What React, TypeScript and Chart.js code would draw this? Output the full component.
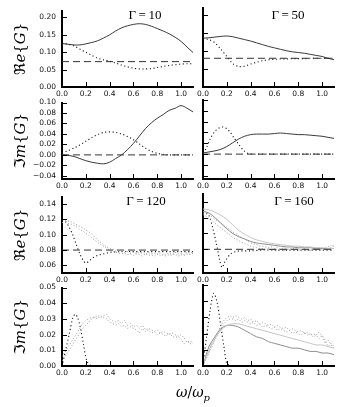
import React, { useEffect, useRef } from 'react';
import { Chart, registerables } from 'chart.js';
Chart.register(...registerables);

// ---------- data ----------
const W = [0, 0.05, 0.1, 0.15, 0.2, 0.25, 0.3, 0.35, 0.4, 0.45, 0.5, 0.55, 0.6, 0.65, 0.7, 0.75, 0.8, 0.85, 0.9, 0.95, 1.0, 1.05, 1.1];
const W2 = [0, 0.025, 0.05, 0.075, 0.1, 0.125, 0.15, 0.175, 0.2, 0.225, 0.25, 0.275, 0.3, 0.325, 0.35, 0.375, 0.4, 0.425, 0.45, 0.475, 0.5, 0.525, 0.55, 0.575, 0.6, 0.625, 0.65, 0.675, 0.7, 0.725, 0.75, 0.775, 0.8, 0.825, 0.85, 0.875, 0.9, 0.925, 0.95, 0.975, 1.0, 1.025, 1.05, 1.075, 1.1];
const DASH_X = [0, 1.1];
const X_TICKS = [0, 0.2, 0.4, 0.6, 0.8, 1.0];

// Gamma = 10
const RE10_SOLID = [0.125, 0.123, 0.121, 0.121, 0.124, 0.128, 0.133, 0.141, 0.150, 0.161, 0.170, 0.176, 0.180, 0.182, 0.180, 0.175, 0.168, 0.161, 0.153, 0.143, 0.131, 0.115, 0.099];
const RE10_DOT = [0.125, 0.123, 0.118, 0.109, 0.100, 0.091, 0.083, 0.078, 0.074, 0.069, 0.063, 0.058, 0.054, 0.052, 0.052, 0.053, 0.056, 0.059, 0.062, 0.064, 0.066, 0.067, 0.067];
const RE10_DASH = [0.073, 0.073];
const IM10_SOLID = [0, -0.001, -0.003, -0.007, -0.011, -0.014, -0.016, -0.017, -0.014, -0.007, 0, 0.010, 0.022, 0.036, 0.050, 0.061, 0.070, 0.077, 0.085, 0.089, 0.094, 0.089, 0.082];
const IM10_DOT = [0.004, 0.008, 0.013, 0.019, 0.026, 0.033, 0.039, 0.043, 0.044, 0.043, 0.040, 0.035, 0.029, 0.021, 0.013, 0.007, 0.003, 0.001, 0, 0, 0, 0, 0];
const IM10_DASH = [0, 0];

// Gamma = 50
const RE50_SOLID = [0.136, 0.137, 0.139, 0.141, 0.142, 0.140, 0.136, 0.132, 0.128, 0.123, 0.118, 0.113, 0.109, 0.105, 0.101, 0.098, 0.096, 0.094, 0.091, 0.088, 0.085, 0.080, 0.076];
const RE50_DOT = [0.136, 0.132, 0.123, 0.105, 0.085, 0.065, 0.057, 0.058, 0.064, 0.069, 0.073, 0.076, 0.077, 0.078, 0.078, 0.079, 0.079, 0.079, 0.080, 0.080, 0.080, 0.080, 0.080];
const RE50_DASH = [0.08, 0.08];
const IM50_SOLID = [0.002, 0.004, 0.006, 0.009, 0.014, 0.021, 0.028, 0.033, 0.036, 0.037, 0.037, 0.037, 0.038, 0.039, 0.038, 0.037, 0.036, 0.036, 0.035, 0.034, 0.033, 0.031, 0.029];
const IM50_DOT_X = [0, 0.03, 0.06, 0.1, 0.14, 0.17, 0.2, 0.23, 0.26, 0.3, 0.34, 0.38, 0.42, 0.5, 0.6, 0.7, 0.8, 0.9, 1.0, 1.1];
const IM50_DOT = [0.002, 0.012, 0.028, 0.042, 0.049, 0.050, 0.047, 0.040, 0.030, 0.018, 0.007, 0.001, 0, 0, 0, 0, 0, 0, 0, 0];
const IM50_DASH = [0, 0];

// Gamma = 120
const RE120_BLK_X = [0, 0.03, 0.06, 0.09, 0.12, 0.15, 0.18, 0.2, 0.23, 0.26, 0.3, 0.35, 0.4, 0.5, 0.6, 0.7, 0.8, 0.9, 1.0, 1.1];
const RE120_BLK = [0.119, 0.117, 0.110, 0.100, 0.087, 0.075, 0.066, 0.063, 0.066, 0.070, 0.073, 0.075, 0.077, 0.078, 0.078, 0.078, 0.078, 0.078, 0.078, 0.078];
const RE120_G1 = [0.120, 0.119, 0.118, 0.117, 0.115, 0.113, 0.111, 0.109, 0.106, 0.104, 0.101, 0.097, 0.093, 0.090, 0.087, 0.084, 0.082, 0.081, 0.079, 0.078, 0.078, 0.077, 0.078, 0.076, 0.077, 0.075, 0.077, 0.076, 0.074, 0.077, 0.075, 0.076, 0.074, 0.076, 0.073, 0.075, 0.076, 0.074, 0.077, 0.075, 0.076, 0.074, 0.077, 0.076, 0.078];
const RE120_G2 = [0.116, 0.116, 0.115, 0.114, 0.112, 0.110, 0.107, 0.105, 0.102, 0.099, 0.096, 0.093, 0.090, 0.087, 0.085, 0.082, 0.080, 0.078, 0.077, 0.076, 0.075, 0.076, 0.074, 0.075, 0.073, 0.075, 0.074, 0.072, 0.075, 0.073, 0.074, 0.072, 0.075, 0.073, 0.074, 0.072, 0.074, 0.073, 0.075, 0.072, 0.074, 0.073, 0.075, 0.074, 0.076];
const RE120_DASH = [0.08, 0.08];
const IM120_BLK_X = [0, 0.03, 0.06, 0.09, 0.11, 0.13, 0.15, 0.18, 0.21, 0.25, 0.3];
const IM120_BLK = [0, 0.010, 0.020, 0.0305, 0.033, 0.031, 0.026, 0.014, 0.003, 0, 0];
const IM120_G1 = [0.006, 0.009, 0.012, 0.015, 0.018, 0.021, 0.024, 0.027, 0.029, 0.030, 0.031, 0.031, 0.032, 0.031, 0.032, 0.033, 0.030, 0.029, 0.028, 0.029, 0.027, 0.029, 0.026, 0.027, 0.025, 0.026, 0.024, 0.026, 0.023, 0.024, 0.023, 0.022, 0.023, 0.021, 0.022, 0.021, 0.020, 0.021, 0.020, 0.019, 0.020, 0.018, 0.015, 0.016, 0.015];
const IM120_G2 = [0.003, 0.006, 0.009, 0.012, 0.015, 0.018, 0.021, 0.024, 0.026, 0.028, 0.030, 0.031, 0.030, 0.032, 0.031, 0.030, 0.028, 0.027, 0.026, 0.027, 0.025, 0.026, 0.024, 0.025, 0.024, 0.023, 0.021, 0.024, 0.022, 0.023, 0.021, 0.022, 0.020, 0.021, 0.020, 0.019, 0.021, 0.019, 0.018, 0.019, 0.017, 0.014, 0.016, 0.014, 0.015];

// Gamma = 160
const RE160_LIGHT = [0.131, 0.130, 0.127, 0.123, 0.118, 0.111, 0.104, 0.099, 0.095, 0.092, 0.090, 0.088, 0.087, 0.086, 0.085, 0.084, 0.084, 0.083, 0.083, 0.082, 0.082, 0.081, 0.081];
const RE160_MID = [0.128, 0.126, 0.120, 0.113, 0.106, 0.100, 0.096, 0.093, 0.090, 0.088, 0.087, 0.086, 0.085, 0.084, 0.083, 0.083, 0.082, 0.082, 0.082, 0.081, 0.081, 0.081, 0.081];
const RE160_BLK_X = [0, 0.03, 0.05, 0.08, 0.11, 0.14, 0.16, 0.18, 0.2, 0.23, 0.27, 0.31, 0.4, 0.5, 0.6, 0.7, 0.8, 0.9, 1.0, 1.1];
const RE160_BLK = [0.128, 0.126, 0.123, 0.108, 0.089, 0.066, 0.057, 0.063, 0.068, 0.074, 0.077, 0.078, 0.078, 0.079, 0.079, 0.079, 0.079, 0.079, 0.079, 0.079];
const RE160_G1 = [0.126, 0.125, 0.123, 0.121, 0.118, 0.116, 0.113, 0.111, 0.108, 0.105, 0.102, 0.100, 0.097, 0.095, 0.093, 0.090, 0.088, 0.087, 0.086, 0.084, 0.084, 0.083, 0.082, 0.083, 0.081, 0.082, 0.080, 0.082, 0.081, 0.080, 0.082, 0.080, 0.081, 0.079, 0.081, 0.080, 0.079, 0.081, 0.080, 0.082, 0.080, 0.083, 0.081, 0.085, 0.083];
const RE160_G2 = [0.124, 0.122, 0.119, 0.116, 0.113, 0.110, 0.107, 0.104, 0.101, 0.098, 0.095, 0.093, 0.091, 0.089, 0.087, 0.086, 0.084, 0.083, 0.082, 0.081, 0.081, 0.080, 0.081, 0.079, 0.080, 0.079, 0.080, 0.078, 0.080, 0.079, 0.078, 0.080, 0.079, 0.078, 0.080, 0.079, 0.078, 0.080, 0.079, 0.081, 0.079, 0.080, 0.084, 0.082, 0.086];
const RE160_DASH = [0.08, 0.08];
const IM160_BLK_X = [0, 0.03, 0.06, 0.09, 0.12, 0.15, 0.18, 0.2, 0.23];
const IM160_BLK = [0.0016, 0.018, 0.0346, 0.0449, 0.0387, 0.0243, 0.0099, 0.0016, 0];
const IM160_MID = [0, 0.012, 0.018, 0.023, 0.025, 0.025, 0.024, 0.022, 0.020, 0.018, 0.017, 0.015, 0.014, 0.013, 0.012, 0.011, 0.011, 0.010, 0.009, 0.009, 0.008, 0.008, 0.007];
const IM160_LIGHT = [0, 0.010, 0.017, 0.022, 0.025, 0.026, 0.026, 0.025, 0.024, 0.023, 0.022, 0.021, 0.020, 0.019, 0.018, 0.017, 0.016, 0.015, 0.014, 0.013, 0.013, 0.012, 0.011];
const IM160_G1 = [0.001, 0.005, 0.009, 0.013, 0.017, 0.021, 0.025, 0.028, 0.030, 0.031, 0.030, 0.031, 0.030, 0.029, 0.030, 0.028, 0.029, 0.027, 0.028, 0.026, 0.027, 0.026, 0.025, 0.026, 0.024, 0.025, 0.024, 0.023, 0.024, 0.022, 0.023, 0.022, 0.021, 0.022, 0.020, 0.021, 0.019, 0.020, 0.019, 0.021, 0.018, 0.014, 0.016, 0.013, 0.011];
const IM160_G2 = [0.000, 0.004, 0.008, 0.012, 0.016, 0.019, 0.023, 0.026, 0.028, 0.029, 0.029, 0.028, 0.029, 0.027, 0.028, 0.027, 0.026, 0.027, 0.025, 0.026, 0.024, 0.025, 0.024, 0.023, 0.024, 0.022, 0.023, 0.022, 0.021, 0.022, 0.020, 0.021, 0.020, 0.019, 0.021, 0.019, 0.020, 0.018, 0.019, 0.017, 0.019, 0.016, 0.012, 0.014, 0.012];

const Y_TICKS_RE_TOP = [0, 0.05, 0.1, 0.15, 0.2];
const Y_TICKS_IM_TOP = [-0.04, -0.02, 0, 0.02, 0.04, 0.06, 0.08, 0.1];
const Y_TICKS_RE_BOT = [0.06, 0.08, 0.1, 0.12, 0.14];
const Y_TICKS_IM_BOT = [0, 0.01, 0.02, 0.03, 0.04, 0.05];

// ---------- styles ----------
type Kind = 'solid' | 'dot' | 'dash' | 'gray' | 'light' | 'mid';
const STYLE: Record<Kind, any> = {
  solid: { borderColor: '#3a3a3a', borderWidth: 1, borderDash: [], tension: 0.35 },
  dot: { borderColor: '#111111', borderWidth: 1.1, borderDash: [1.1, 2.6], tension: 0.3 },
  dash: { borderColor: '#333333', borderWidth: 1, borderDash: [7, 4], tension: 0 },
  gray: { borderColor: '#9a9a9a', borderWidth: 1, borderDash: [1, 2], tension: 0 },
  light: { borderColor: '#c4c4c4', borderWidth: 1, borderDash: [], tension: 0.35 },
  mid: { borderColor: '#8c8c8c', borderWidth: 1, borderDash: [], tension: 0.35 },
};

type S = { x: number[]; y: number[]; kind: Kind };
type Panel = {
  col: 0 | 1; top: number; bottom: number; ymin: number; ymax: number; yticks: number[]; ydec: number;
  title?: 're' | 'im'; gamma?: string; gx?: number; gy?: number; series: S[];
};

const COL_L = [62, 203];
const COL_R = [193, 334];
const ML = [62, 14];
const MT = 8, MR = 6, MB = 14;

const PANELS: Panel[] = [
  { col: 0, top: 8, bottom: 87, ymin: 0, ymax: 0.22, yticks: Y_TICKS_RE_TOP, ydec: 2, title: 're', gamma: '10', gx: 145, gy: 16,
    series: [{ x: DASH_X, y: RE10_DASH, kind: 'dash' }, { x: W, y: RE10_DOT, kind: 'dot' }, { x: W, y: RE10_SOLID, kind: 'solid' }] },
  { col: 1, top: 8, bottom: 87, ymin: 0, ymax: 0.22, yticks: Y_TICKS_RE_TOP, ydec: 2, gamma: '50', gx: 288, gy: 16,
    series: [{ x: DASH_X, y: RE50_DASH, kind: 'dash' }, { x: W, y: RE50_DOT, kind: 'dot' }, { x: W, y: RE50_SOLID, kind: 'solid' }] },
  { col: 0, top: 100, bottom: 179, ymin: -0.046, ymax: 0.1, yticks: Y_TICKS_IM_TOP, ydec: 2, title: 'im',
    series: [{ x: DASH_X, y: IM10_DASH, kind: 'dash' }, { x: W, y: IM10_DOT, kind: 'dot' }, { x: W, y: IM10_SOLID, kind: 'solid' }] },
  { col: 1, top: 100, bottom: 179, ymin: -0.046, ymax: 0.1, yticks: Y_TICKS_IM_TOP, ydec: 2,
    series: [{ x: DASH_X, y: IM50_DASH, kind: 'dash' }, { x: IM50_DOT_X, y: IM50_DOT, kind: 'dot' }, { x: W, y: IM50_SOLID, kind: 'solid' }] },
  { col: 0, top: 194, bottom: 273, ymin: 0.05, ymax: 0.15, yticks: Y_TICKS_RE_BOT, ydec: 2, title: 're', gamma: '120', gx: 146, gy: 202,
    series: [{ x: DASH_X, y: RE120_DASH, kind: 'dash' }, { x: W2, y: RE120_G1, kind: 'gray' }, { x: W2, y: RE120_G2, kind: 'gray' }, { x: RE120_BLK_X, y: RE120_BLK, kind: 'dot' }] },
  { col: 1, top: 194, bottom: 273, ymin: 0.05, ymax: 0.15, yticks: Y_TICKS_RE_BOT, ydec: 2, gamma: '160', gx: 294, gy: 202,
    series: [{ x: DASH_X, y: RE160_DASH, kind: 'dash' }, { x: W, y: RE160_LIGHT, kind: 'light' }, { x: W, y: RE160_MID, kind: 'mid' }, { x: W2, y: RE160_G1, kind: 'gray' }, { x: W2, y: RE160_G2, kind: 'gray' }, { x: RE160_BLK_X, y: RE160_BLK, kind: 'dot' }] },
  { col: 0, top: 285, bottom: 366, ymin: 0, ymax: 0.05, yticks: Y_TICKS_IM_BOT, ydec: 2, title: 'im',
    series: [{ x: W2, y: IM120_G1, kind: 'gray' }, { x: W2, y: IM120_G2, kind: 'gray' }, { x: IM120_BLK_X, y: IM120_BLK, kind: 'dot' }] },
  { col: 1, top: 285, bottom: 366, ymin: 0, ymax: 0.05, yticks: Y_TICKS_IM_BOT, ydec: 2,
    series: [{ x: W, y: IM160_LIGHT, kind: 'light' }, { x: W, y: IM160_MID, kind: 'mid' }, { x: W2, y: IM160_G1, kind: 'gray' }, { x: W2, y: IM160_G2, kind: 'gray' }, { x: IM160_BLK_X, y: IM160_BLK, kind: 'dot' }] },
];

const TICK_FONT = { family: "'DejaVu Sans', sans-serif", size: 7.5 };

function PanelChart({ p }: { p: Panel }) {
  const ref = useRef<HTMLCanvasElement>(null);
  const ml = ML[p.col];
  const plotW = COL_R[p.col] - COL_L[p.col];
  const plotH = p.bottom - p.top;
  const cw = ml + plotW + MR;
  const ch = MT + plotH + MB;
  const cLeft = COL_L[p.col] - ml;
  const cTop = p.top - MT;

  useEffect(() => {
    const decor = {
      id: 'decor',
      afterDraw(chart: any) {
        const { ctx, chartArea } = chart;
        const xs = chart.scales.x, ys = chart.scales.y;
        ctx.save();
        ctx.strokeStyle = '#000';
        ctx.lineWidth = 1;
        ctx.setLineDash([]);
        ctx.beginPath();
        for (const t of X_TICKS) {
          const px = Math.round(xs.getPixelForValue(t)) + 0.5;
          ctx.moveTo(px, chartArea.bottom);
          ctx.lineTo(px, chartArea.bottom - 5);
        }
        for (const t of p.yticks) {
          const py = Math.round(ys.getPixelForValue(t)) + 0.5;
          ctx.moveTo(chartArea.left, py);
          ctx.lineTo(chartArea.left + 5, py);
        }
        ctx.stroke();
        ctx.fillStyle = '#000';
        if (p.gamma) {
          ctx.font = "13px 'Liberation Serif', serif";
          ctx.textAlign = 'center';
          ctx.textBaseline = 'middle';
          ctx.fillText('Γ\u2009=\u2009' + p.gamma, p.gx! - cLeft, p.gy! - cTop);
        }
        if (p.title) {
          const segs = p.title === 're'
            ? [['ℜ', ''], ['e', 'italic '], ['{', ''], ['G', 'italic '], ['}', '']]
            : [['ℑ', ''], ['m', 'italic '], ['{', ''], ['G', 'italic '], ['}', '']];
          const fam = "15px 'DejaVu Serif', 'DejaVu Sans', serif";
          let total = 0;
          const widths = segs.map(([t, st]) => { ctx.font = st + fam; const w = ctx.measureText(t).width; total += w; return w; });
          ctx.translate(21 - cLeft, (chartArea.top + chartArea.bottom) / 2);
          ctx.rotate(-Math.PI / 2);
          ctx.textAlign = 'left';
          ctx.textBaseline = 'middle';
          let x = -total / 2;
          segs.forEach(([t, st], i) => { ctx.font = st + fam; ctx.fillText(t, x, 0); x += widths[i]; });
        }
        ctx.restore();
      },
    };

    const chart = new Chart(ref.current!, {
      type: 'line',
      data: {
        datasets: p.series.map((s) => ({
          data: s.x.map((x, i) => ({ x, y: s.y[i] })),
          pointRadius: 0,
          fill: false,
          ...STYLE[s.kind],
        })),
      },
      options: {
        animation: false,
        responsive: false,
        maintainAspectRatio: false,
        events: [],
        layout: { padding: { top: MT, right: MR, left: 0, bottom: 0 } },
        plugins: { legend: { display: false }, tooltip: { enabled: false }, title: { display: false } },
        scales: {
          x: {
            type: 'linear', min: 0, max: 1.1,
            afterBuildTicks: (s: any) => { s.ticks = X_TICKS.map((v) => ({ value: v })); },
            afterFit: (s: any) => { s.height = MB; },
            grid: { display: false, drawTicks: false },
            border: { display: true, color: '#000', width: 2 },
            ticks: { font: TICK_FONT, color: '#111', padding: 3, autoSkip: false, maxRotation: 0, callback: (v: any) => Number(v).toFixed(1) },
          },
          y: {
            type: 'linear', min: p.ymin, max: p.ymax,
            afterBuildTicks: (s: any) => { s.ticks = p.yticks.map((v) => ({ value: v })); },
            afterFit: (s: any) => { s.width = ml; },
            grid: { display: false, drawTicks: false },
            border: { display: true, color: '#000', width: 2 },
            ticks: {
              display: p.col === 0, font: TICK_FONT, color: '#111', padding: 6, autoSkip: false,
              callback: (v: any) => Number(v).toFixed(p.ydec).replace('-', '\u2212'),
            },
          },
        },
      } as any,
      plugins: [decor],
    });
    return () => chart.destroy();
  }, []);

  return (
    <canvas ref={ref} width={cw} height={ch}
      style={{ position: 'absolute', left: cLeft, top: cTop, width: cw, height: ch }} />
  );
}

export default function App() {
  return (
    <div style={{ position: 'absolute', left: 0, top: 0, width: 341, height: 407, background: '#fff', overflow: 'hidden' }}>
      {PANELS.map((p, i) => <PanelChart key={i} p={p} />)}
      <div style={{ position: 'absolute', left: 143, width: 100, top: 383, textAlign: 'center', fontFamily: "'DejaVu Serif', serif", fontSize: 14, lineHeight: '18px', color: '#000' }}>
        <i>ω</i>/<i>ω</i><sub style={{ fontStyle: 'italic', fontSize: 10 }}>p</sub>
      </div>
    </div>
  );
}
